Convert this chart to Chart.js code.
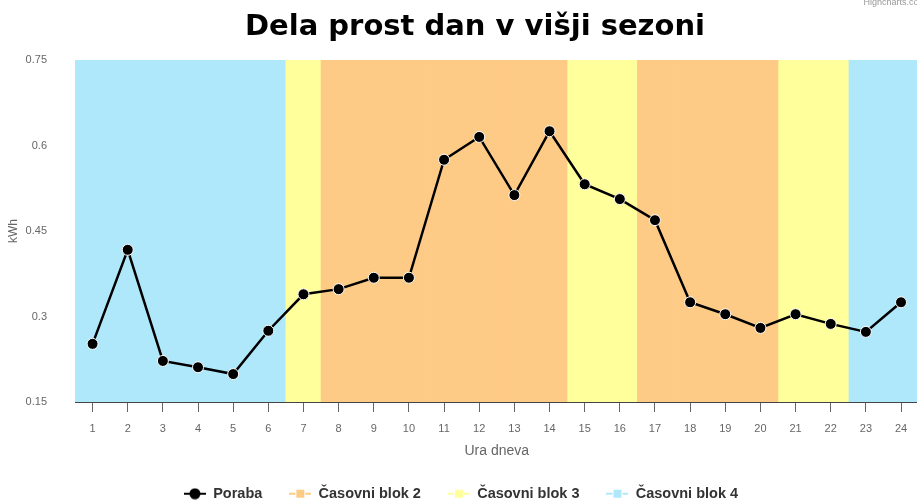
<!DOCTYPE html>
<html>
<head>
<meta charset="utf-8">
<title>Dela prost dan v višji sezoni</title>
<script src="https://cdn.jsdelivr.net/npm/chart.js@4"></script>
<style>
  html, body { margin: 0; padding: 0; background: #fff; overflow: hidden; }
  #wrap { width: 950px; height: 500px; position: relative; }
</style>
</head>
<body>
<div id="wrap"><canvas id="porabaChart"></canvas></div>
<script>
// data
const hours = ['1', '2', '3', '4', '5', '6', '7', '8', '9', '10', '11', '12',
  '13', '14', '15', '16', '17', '18', '19', '20', '21', '22', '23', '24'];
const poraba = [0.252, 0.417, 0.222, 0.211, 0.199, 0.275, 0.339, 0.348, 0.368, 0.368, 0.575, 0.615,
  0.513, 0.625, 0.532, 0.506, 0.469, 0.325, 0.304, 0.280, 0.304, 0.287, 0.273, 0.325];
const blok2Ure = [8, 9, 10, 11, 12, 13, 14, 17, 18, 19, 20];
const blok3Ure = [7, 15, 16, 21, 22];
const blok4Ure = [1, 2, 3, 4, 5, 6, 23, 24];
const yTicks = [0.15, 0.3, 0.45, 0.6, 0.75];

Chart.defaults.font.family = "'Liberation Sans', Arial, sans-serif";

// band = full-height column on a hidden 0..1 axis
const band = (ure) => hours.map(h => ure.includes(Number(h)) ? 1 : null);

const bandSet = (label, ure, color) => ({
  type: 'bar',
  label: label,
  data: band(ure),
  yAxisID: 'yBand',
  backgroundColor: color,
  borderWidth: 0,
  barPercentage: 1,
  categoryPercentage: 1,
  grouped: false,
  order: 2
});

// legend symbol like "-o-" / "-#-"
function legendSymbol(color, shape) {
  const c = document.createElement('canvas');
  c.width = 22;
  c.height = 12;
  const g = c.getContext('2d');
  g.strokeStyle = color;
  g.fillStyle = color;
  g.lineWidth = 2;
  g.beginPath();
  g.moveTo(0, 6); g.lineTo(6, 6);
  g.moveTo(16, 6); g.lineTo(22, 6);
  g.stroke();
  if (shape === 'circle') {
    g.beginPath();
    g.arc(11, 6, 4.5, 0, Math.PI * 2);
    g.fill();
    g.moveTo(5, 6); g.lineTo(17, 6);
    g.stroke();
  } else {
    g.fillRect(7, 2, 8, 8);
  }
  return c;
}

const symbols = [
  legendSymbol('#000', 'circle'),
  legendSymbol('#FECB87', 'rect'),
  legendSymbol('#FFFF9B', 'rect'),
  legendSymbol('#B0E8FB', 'rect')
];

// small text in the top right corner, cut by the window like in the original
const credits = {
  id: 'credits',
  afterLayout(chart) {
    // original legend sits a bit left of the canvas centre
    chart.legend.left -= 14;
    chart.legend.right -= 14;
  },
  afterDraw(chart) {
    const ctx = chart.ctx;
    ctx.save();
    ctx.font = "9px 'Liberation Sans', Arial, sans-serif";
    ctx.fillStyle = '#999';
    ctx.textAlign = 'right';
    ctx.textBaseline = 'alphabetic';
    ctx.fillText('Highcharts.com', 926, 5);
    ctx.restore();
  }
};

const porabaChart = new Chart(document.getElementById('porabaChart'), {
  data: {
    labels: hours,
    datasets: [
      {
        type: 'line',
        label: 'Poraba',
        data: poraba,
        yAxisID: 'y',
        borderColor: '#000',
        backgroundColor: '#000',
        borderWidth: 2.5,
        pointRadius: 5.5,
        pointBorderColor: '#fff',
        pointBorderWidth: 1,
        pointBackgroundColor: '#000',
        tension: 0,
        order: 0
      },
      bandSet('Časovni blok 2', blok2Ure, '#FECB87'),
      bandSet('Časovni blok 3', blok3Ure, '#FFFF9B'),
      bandSet('Časovni blok 4', blok4Ure, '#B0E8FB')
    ]
  },
  options: {
    responsive: true,
    maintainAspectRatio: false,
    animation: false,
    layout: { padding: { left: 0, right: 0, top: 0, bottom: -11 } },
    plugins: {
      title: {
        display: true,
        text: 'Dela prost dan v višji sezoni',
        color: '#000',
        font: { family: "'DejaVu Sans', Verdana, sans-serif", size: 29, weight: 'bold' },
        padding: { top: 10, bottom: 15.2 }
      },
      legend: {
        position: 'bottom',
        labels: {
          color: '#333',
          font: { size: 14.5, weight: 'bold' },
          usePointStyle: true,
          pointStyleWidth: 22,
          boxHeight: 12,
          padding: 27,
          generateLabels(chart) {
            const items = Chart.defaults.plugins.legend.labels.generateLabels(chart);
            return items.map((it, i) => Object.assign(it, { pointStyle: symbols[i] }));
          }
        }
      },
      tooltip: { enabled: false }
    },
    scales: {
      x: {
        offset: true,
        grid: {
          display: true,
          drawOnChartArea: false,
          offset: false,
          tickLength: 10,
          tickColor: '#666'
        },
        border: { display: true, color: '#444', width: 1 },
        ticks: { color: '#666', font: { size: 11 }, padding: 10, maxRotation: 0 },
        title: {
          display: true,
          text: 'Ura dneva',
          color: '#666',
          font: { size: 14 },
          padding: { top: 0, bottom: 0 }
        },
        afterFit(s) {
          s.height = s.chart.height + 11 - 402 - s.chart.legend.height;
        }
      },
      y: {
        min: 0.15,
        max: 0.75,
        grid: { display: false },
        border: { display: false },
        ticks: {
          color: '#666',
          font: { size: 11 },
          padding: 20,
          callback: (v) => String(v)
        },
        afterBuildTicks(s) {
          s.ticks = yTicks.map(v => ({ value: v }));
        },
        title: {
          display: true,
          text: 'kWh',
          color: '#666',
          font: { size: 12 },
          padding: { top: 6, bottom: 0 }
        },
        afterFit(s) {
          s.width = 75;
        }
      },
      // hidden axis for the bands, it only keeps the empty space on the right
      yBand: {
        position: 'right',
        min: 0,
        max: 1,
        grid: { display: false },
        border: { display: false },
        ticks: { display: false },
        afterFit(s) {
          s.width = 31.4;
        }
      }
    }
  },
  plugins: [credits]
});
</script>
</body>
</html>
